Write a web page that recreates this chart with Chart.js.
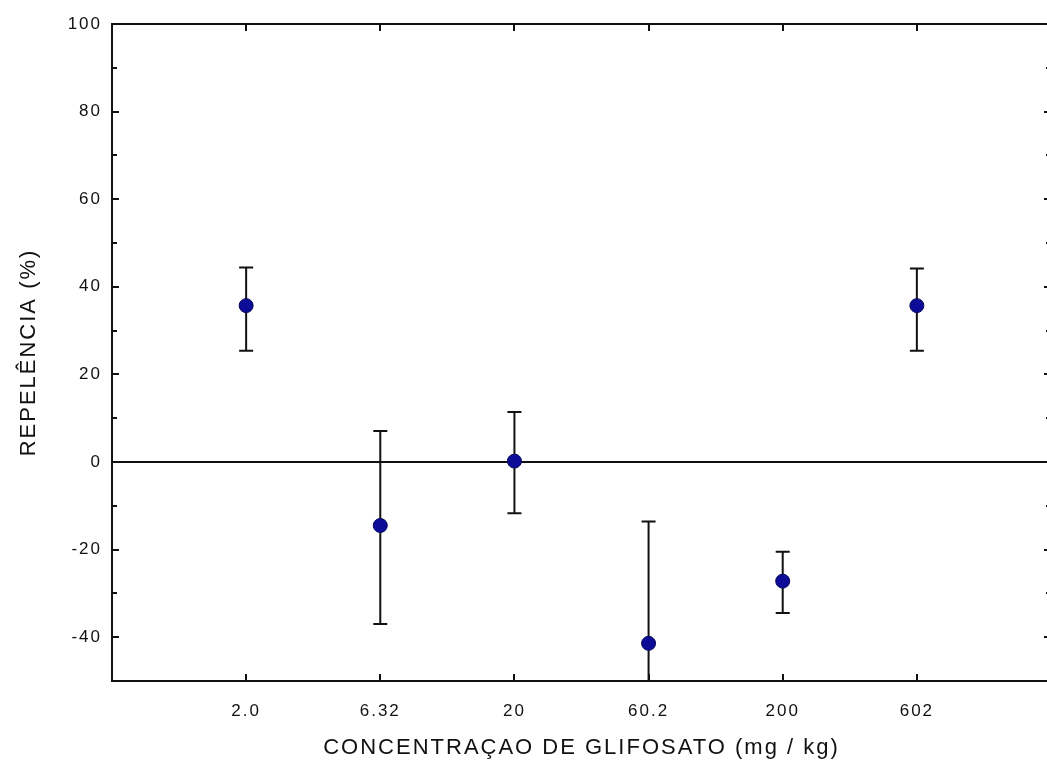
<!DOCTYPE html>
<html>
<head>
<meta charset="utf-8">
<script src="https://cdn.jsdelivr.net/npm/chart.js@4/dist/chart.umd.min.js"></script>
<style>
  html, body { margin: 0; padding: 0; background: #fff; overflow: hidden; }
  #wrap { width: 1060px; height: 767px; position: relative; }
</style>
</head>
<body>
<div id="wrap"><canvas id="chart"></canvas></div>
<script>
// concentration categories (mg/kg) and repellence means with error limits
const concentrations = ['2.0', '6.32', '20', '60.2', '200', '602'];
const repelencia = [35.7, -14.5, 0.2, -41.4, -27.2, 35.7];
const errUpper = [44.4, 7.1, 11.4, -13.6, -20.5, 44.2];
const errLower = [25.4, -37.0, -11.7, -69.2, -34.5, 25.4];
const yTicks = [100, 80, 60, 40, 20, 0, -20, -40];

const points = repelencia.map((v, i) => ({ x: i + 1, y: v }));

// error bars, drawn under the points
const errorBars = {
  id: 'errorBars',
  beforeDatasetsDraw(chart) {
    const ctx = chart.ctx, xs = chart.scales.x, ys = chart.scales.y, a = chart.chartArea;
    ctx.save();
    ctx.beginPath();
    ctx.rect(a.left, a.top, a.right - a.left, a.bottom - a.top);
    ctx.clip();
    ctx.strokeStyle = '#111';
    ctx.lineWidth = 2;
    points.forEach((p, i) => {
      const x = xs.getPixelForValue(p.x);
      const y1 = ys.getPixelForValue(errUpper[i]);
      const y2 = ys.getPixelForValue(errLower[i]);
      ctx.beginPath();
      ctx.moveTo(x, y1); ctx.lineTo(x, y2);
      ctx.moveTo(x - 7, y1); ctx.lineTo(x + 7, y1);
      ctx.moveTo(x - 7, y2); ctx.lineTo(x + 7, y2);
      ctx.stroke();
    });
    ctx.restore();
  }
};

// frame and inward tick marks on all four sides
const frame = {
  id: 'frame',
  afterDraw(chart) {
    const ctx = chart.ctx, xs = chart.scales.x, ys = chart.scales.y, a = chart.chartArea;
    ctx.save();
    ctx.strokeStyle = '#111';
    ctx.lineWidth = 2;
    ctx.strokeRect(a.left, a.top, a.right - a.left, a.bottom - a.top);
    ctx.beginPath();
    concentrations.forEach((c, i) => {
      const x = Math.round(xs.getPixelForValue(i + 1));
      ctx.moveTo(x, a.bottom); ctx.lineTo(x, a.bottom - 7);
      ctx.moveTo(x, a.top); ctx.lineTo(x, a.top + 7);
    });
    for (let v = -50; v <= 100; v += 10) {
      const y = Math.round(ys.getPixelForValue(v));
      const len = v % 20 === 0 ? 7 : 5;
      ctx.moveTo(a.left, y); ctx.lineTo(a.left + len, y);
      ctx.moveTo(a.right, y); ctx.lineTo(a.right - len, y);
    }
    ctx.stroke();
    ctx.restore();
  }
};

const spacing = {
  id: 'spacing',
  beforeDraw(chart) { chart.ctx.letterSpacing = '2px'; }
};

new Chart(document.getElementById('chart'), {
  type: 'scatter',
  data: {
    datasets: [{
      label: 'Repelência',
      data: points,
      pointRadius: 7,
      pointHoverRadius: 7,
      backgroundColor: '#0c0c98',
      borderColor: '#07075a',
      borderWidth: 1
    }]
  },
  plugins: [spacing, errorBars, frame],
  options: {
    responsive: true,
    maintainAspectRatio: false,
    animation: false,
    layout: { padding: { top: 24, right: 9, left: 0, bottom: 0 } },
    plugins: { legend: { display: false }, tooltip: { enabled: false } },
    scales: {
      x: {
        type: 'linear',
        min: 0,
        max: 7,
        afterFit(scale) { scale.height = 86; },
        afterBuildTicks(scale) {
          scale.ticks = concentrations.map((c, i) => ({ value: i + 1 }));
        },
        ticks: {
          padding: 12,
          autoSkip: false,
          maxRotation: 0,
          color: '#111',
          font: { family: 'Liberation Sans, Arial, sans-serif', size: 17 },
          callback: (v) => concentrations[v - 1] || ''
        },
        grid: { display: false },
        border: { display: false },
        title: {
          display: true,
          text: 'CONCENTRAÇAO DE GLIFOSATO (mg / kg)',
          color: '#111',
          font: { family: 'Liberation Sans, Arial, sans-serif', size: 22 },
          padding: { top: 0, bottom: 6 }
        }
      },
      y: {
        min: -50,
        max: 100,
        afterFit(scale) { scale.width = 112; },
        afterBuildTicks(scale) {
          scale.ticks = yTicks.map(v => ({ value: v }));
        },
        ticks: {
          padding: 10,
          color: '#111',
          font: { family: 'Liberation Sans, Arial, sans-serif', size: 17 }
        },
        grid: {
          drawTicks: false,
          lineWidth: 2,
          color: (c) => c.tick && c.tick.value === 0 ? '#111' : 'rgba(0,0,0,0)'
        },
        border: { display: false },
        title: {
          display: true,
          text: 'REPELÊNCIA (%)',
          color: '#111',
          font: { family: 'Liberation Sans, Arial, sans-serif', size: 22 },
          padding: { top: 16, bottom: 0 }
        }
      }
    }
  }
});
</script>
</body>
</html>
